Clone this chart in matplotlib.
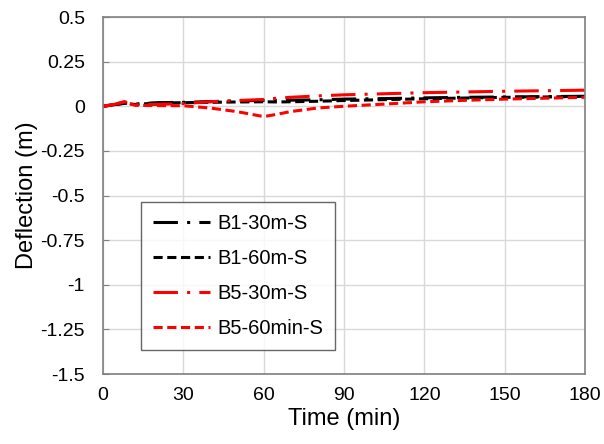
import matplotlib
matplotlib.use('Agg')
import matplotlib.pyplot as plt

plt.rcParams['font.family'] = ['Liberation Sans', 'DejaVu Sans']

# data (time in min, deflection in m)
t = [0, 4, 8, 12, 20, 30, 40, 50, 60, 65, 70, 80, 90, 105, 120, 135, 150, 165, 180]
b1_30 = [0, 0.008, 0.018, 0.012, 0.02, 0.022, 0.026, 0.03, 0.033, 0.033, 0.034, 0.036, 0.04, 0.043, 0.047, 0.05, 0.052, 0.054, 0.056]
b1_60 = [0, 0.008, 0.016, 0.01, 0.018, 0.02, 0.022, 0.024, 0.025, 0.024, 0.025, 0.028, 0.032, 0.037, 0.042, 0.046, 0.05, 0.052, 0.055]
b5_30 = [0, 0.01, 0.025, 0.008, 0.01, 0.015, 0.025, 0.032, 0.038, 0.045, 0.05, 0.058, 0.064, 0.07, 0.076, 0.08, 0.084, 0.087, 0.09]
b5_60 = [0, 0.01, 0.025, 0.005, 0.004, 0.003, -0.01, -0.03, -0.058, -0.045, -0.03, -0.01, 0.0, 0.012, 0.025, 0.033, 0.04, 0.045, 0.05]

fig = plt.figure(figsize=(6.04, 4.44), dpi=100)
ax = fig.add_axes([103 / 604, 1 - 374 / 444, 482 / 604, 357 / 444])

ax.plot(t, b1_30, color='black', lw=2.2, dashes=(8, 3, 1, 3), label='B1-30m-S')
ax.plot(t, b1_60, color='black', lw=2.2, dashes=(3, 1.5), label='B1-60m-S')
ax.plot(t, b5_30, color='red', lw=2.2, dashes=(8, 3, 1, 3), label='B5-30m-S')
ax.plot(t, b5_60, color='red', lw=2.2, dashes=(3, 1.5), label='B5-60min-S')

ax.set_xlim(0, 180)
ax.set_ylim(-1.5, 0.5)
ax.set_xticks(range(0, 181, 30))
ax.set_yticks([-1.5, -1.25, -1, -0.75, -0.5, -0.25, 0, 0.25, 0.5])
ax.set_yticklabels(['-1.5', '-1.25', '-1', '-0.75', '-0.5', '-0.25', '0', '0.25', '0.5'])
ax.grid(True, color='#d9d9d9', lw=1)
ax.set_axisbelow(True)
for s in ax.spines.values():
    s.set_color('#808080')
    s.set_linewidth(1.2)
ax.tick_params(axis='y', direction='in', length=4, color='#808080', labelsize=14, pad=13)
ax.tick_params(axis='x', length=0, labelsize=14, pad=9)

ax.set_xlabel('Time (min)', fontsize=17, labelpad=3)
ax.set_ylabel('Deflection (m)', fontsize=17, labelpad=2)

leg = ax.legend(loc='upper left', bbox_to_anchor=(38 / 482, 1 - (202 - 17) / 357),
                fontsize=14.5, frameon=True, fancybox=False, edgecolor='#404040',
                handlelength=2.8, labelspacing=0.78, borderpad=0.62, handletextpad=0.35,
                borderaxespad=0)
leg.get_frame().set_linewidth(1)

fig.savefig('out.png', dpi=100)
